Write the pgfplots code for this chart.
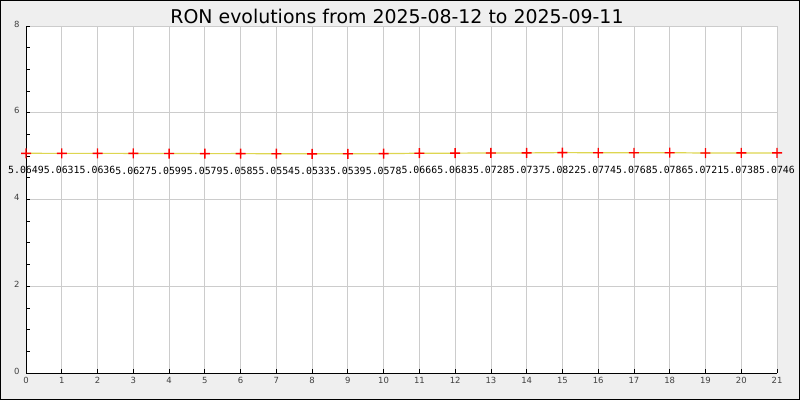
\documentclass[border=0pt]{standalone}
\usepackage{pgfplots}
\pgfplotsset{compat=1.18}
\usepackage{pgfplotstable}
\usepackage{fontspec}
\setmainfont{DejaVu Sans}
\newfontfamily\mono{DejaVu Sans Mono}
\definecolor{bggray}{RGB}{239,239,239}
\definecolor{gridgray}{RGB}{204,204,204}
\definecolor{lineyellow}{RGB}{222,214,80}
\definecolor{markred}{RGB}{255,0,0}
\pgfdeclareplotmark{fplus}{%
  \pgfpathrectangle{\pgfpoint{-5bp}{-0.7bp}}{\pgfpoint{10bp}{1.4bp}}%
  \pgfpathrectangle{\pgfpoint{-0.7bp}{-5bp}}{\pgfpoint{1.4bp}{10bp}}%
  \pgfusepathqfill}
\pgfplotstableread{
x y lab
0 5.0649 5.0649
1 5.0631 5.0631
2 5.0636 5.0636
3 5.0627 5.0627
4 5.0599 5.0599
5 5.0579 5.0579
6 5.0585 5.0585
7 5.0554 5.0554
8 5.0533 5.0533
9 5.0539 5.0539
10 5.0578 5.0578
11 5.0666 5.0666
12 5.0683 5.0683
13 5.0728 5.0728
14 5.0737 5.0737
15 5.0822 5.0822
16 5.0774 5.0774
17 5.0768 5.0768
18 5.0786 5.0786
19 5.0721 5.0721
20 5.0738 5.0738
21 5.0746 5.0746
}\ron
\begin{document}
\begin{tikzpicture}[x=1bp,y=1bp]
\fill[bggray] (0,0) rectangle (800,400);
\draw[black, line width=1.2bp] (0.6,0.6) rectangle (799.4,399.4);
\node[font=\fontsize{19}{22}\selectfont] at (397,384) {RON evolutions from 2025-08-12 to 2025-09-11};
\begin{axis}[
  at={(26bp,27bp)}, anchor=south west,
  scale only axis, width=751bp, height=347bp,
  xmin=0, xmax=21, ymin=0, ymax=8,
  axis background/.style={fill=white},
  axis x line=bottom, axis y line=left,
  axis line style={black, line width=0.8bp, -},
  xtick={0,...,21}, ytick={0,2,4,6,8},
  minor y tick num=3,
  tick align=inside,
  major tick length=4bp, minor tick length=4bp,
  tick style={black, line width=0.8bp},
  grid=major,
  major grid style={gridgray, line width=0.8bp},
  /pgf/number format/assume math mode=true,
  tick label style={font=\fontsize{8.5}{10}\selectfont, text=black!75},
  xticklabel style={yshift=-1bp},
  yticklabel style={xshift=-3bp, yshift=2bp},
  clip=false,
]
\addplot[lineyellow, line width=1.2bp, no marks] table[x=x, y=y] {\ron};
\addplot[only marks, mark=fplus, color=markred,
  mark options={fill=markred, draw=none},
  nodes near coords, point meta=explicit symbolic,
  every node near coord/.style={anchor=center, inner sep=0pt, yshift=-17bp, font=\mono\fontsize{9.9}{12}\selectfont, text=black}
] table[x=x, y=y, meta=lab] {\ron};
\end{axis}
\end{tikzpicture}
\end{document}
